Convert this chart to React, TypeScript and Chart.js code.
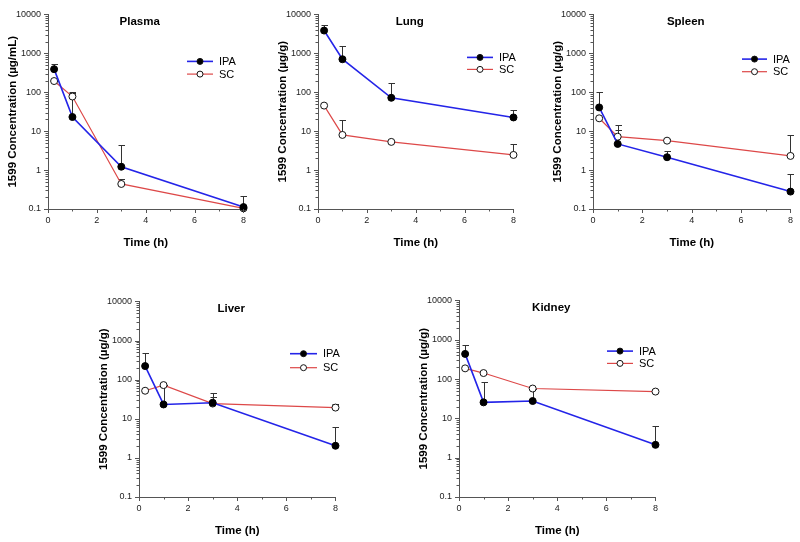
import React, { useEffect, useRef } from "react";
import { Chart, registerables } from "chart.js";

Chart.register(...registerables);

// ---------- data ----------
const TIMES = [0.25, 1, 3, 8];
const X_TICKS = [0, 2, 4, 6, 8];
const Y_TICKS = [0.1, 1, 10, 100, 1000, 10000];
const SERIES_NAMES = ["IPA", "SC"];

const PLASMA_IPA = [392, 23.1, 1.22, 0.112];
const PLASMA_IPA_ERR = [535, 98, 4.5, 0.214];
const PLASMA_SC = [194, 77.6, 0.44, 0.104];
const PLASMA_SC_ERR = [null, 100, 0.6, null];

const LUNG_IPA = [3850, 705, 72, 22.5];
const LUNG_IPA_ERR = [5460, 1540, 174, 34.6];
const LUNG_SC = [45.4, 8.0, 5.3, 2.45];
const LUNG_SC_ERR = [null, 19.6, null, 4.57];

const SPLEEN_IPA = [40.7, 4.7, 2.14, 0.28];
const SPLEEN_IPA_ERR = [102, 10.6, 3.16, 0.78];
const SPLEEN_SC = [21.4, 7.2, 5.7, 2.31];
const SPLEEN_SC_ERR = [null, 14.5, 6.3, 7.9];

const LIVER_IPA = [222, 23.2, 25.7, 2.04];
const LIVER_IPA_ERR = [471, 72, 44.7, 6.2];
const LIVER_SC = [52, 72.6, 24.5, 19.3];
const LIVER_SC_ERR = [null, null, 35, 24.3];

const KIDNEY_IPA = [436, 25.5, 27.6, 2.12];
const KIDNEY_IPA_ERR = [749, 84.5, 55, 6.25];
const KIDNEY_SC = [187, 142, 57.4, 48];
const KIDNEY_SC_ERR = [null, null, null, null];

// ---------- layout / style ----------
const FONT = "'Liberation Sans', Arial, Helvetica, sans-serif";
const IPA_COLOR = "#2424e8";
const SC_COLOR = "#dd4848";
const AXIS_COLOR = "#555555";
const Y_BOX = 50;
const X_BOX = 45;
const PAD_TOP = 10;
const PAD_RIGHT = 6;

type Panel = {
  title: string;
  yTitle: string;
  ipa: number[];
  ipaErr: (number | null)[];
  sc: number[];
  scErr: (number | null)[];
  box: { L: number; R: number; T: number; B: number };
  legend: { x0: number; x1: number; y0: number; y1: number };
};

const PANELS: Panel[] = [
  {
    title: "Plasma",
    yTitle: "1599 Concentration (µg/mL)",
    ipa: PLASMA_IPA, ipaErr: PLASMA_IPA_ERR, sc: PLASMA_SC, scErr: PLASMA_SC_ERR,
    box: { L: 48, R: 246, T: 12, B: 209 },
    legend: { x0: 139, x1: 165, y0: 47, y1: 59.7 },
  },
  {
    title: "Lung",
    yTitle: "1599 Concentration (µg/g)",
    ipa: LUNG_IPA, ipaErr: LUNG_IPA_ERR, sc: LUNG_SC, scErr: LUNG_SC_ERR,
    box: { L: 318, R: 516, T: 12, B: 209 },
    legend: { x0: 149, x1: 175, y0: 43, y1: 55 },
  },
  {
    title: "Spleen",
    yTitle: "1599 Concentration (µg/g)",
    ipa: SPLEEN_IPA, ipaErr: SPLEEN_IPA_ERR, sc: SPLEEN_SC, scErr: SPLEEN_SC_ERR,
    box: { L: 593, R: 793, T: 12, B: 209 },
    legend: { x0: 149, x1: 174, y0: 44.7, y1: 57.3 },
  },
  {
    title: "Liver",
    yTitle: "1599 Concentration (µg/g)",
    ipa: LIVER_IPA, ipaErr: LIVER_IPA_ERR, sc: LIVER_SC, scErr: LIVER_SC_ERR,
    box: { L: 139, R: 338, T: 299, B: 497 },
    legend: { x0: 151, x1: 178, y0: 52.3, y1: 66.3 },
  },
  {
    title: "Kidney",
    yTitle: "1599 Concentration (µg/g)",
    ipa: KIDNEY_IPA, ipaErr: KIDNEY_IPA_ERR, sc: KIDNEY_SC, scErr: KIDNEY_SC_ERR,
    box: { L: 459, R: 658, T: 298, B: 497 },
    legend: { x0: 148, x1: 174, y0: 50.7, y1: 63 },
  },
];

function decorPlugin(p: Panel) {
  return {
    id: "decor",
    beforeDatasetsDraw(chart: any) {
      const ctx = chart.ctx;
      const xs = chart.scales.x;
      const ys = chart.scales.y;
      const groups = [
        { vals: p.ipa, errs: p.ipaErr },
        { vals: p.sc, errs: p.scErr },
      ];
      ctx.save();
      ctx.strokeStyle = "#333333";
      ctx.lineWidth = 1;
      for (const g of groups) {
        g.errs.forEach((e, i) => {
          if (e == null) return;
          const x = Math.round(xs.getPixelForValue(TIMES[i])) + 0.5;
          const y0 = ys.getPixelForValue(g.vals[i]);
          const y1 = Math.round(ys.getPixelForValue(e)) + 0.5;
          ctx.beginPath();
          ctx.moveTo(x, y0);
          ctx.lineTo(x, y1);
          ctx.moveTo(x - 3, y1);
          ctx.lineTo(x + 3.5, y1);
          ctx.stroke();
        });
      }
      ctx.restore();
    },
    afterDraw(chart: any) {
      const ctx = chart.ctx;
      const xs = chart.scales.x;
      const ys = chart.scales.y;
      const area = chart.chartArea;
      ctx.save();
      // tick marks
      ctx.strokeStyle = AXIS_COLOR;
      ctx.lineWidth = 1;
      ctx.beginPath();
      for (let d = 0.1; d <= 10000 * 1.0001; d *= 10) {
        for (let m = 1; m <= 9; m++) {
          const v = d * m;
          if (v > 10000 * 1.0001) break;
          const y = Math.round(ys.getPixelForValue(v)) + 0.5;
          const len = m === 1 ? 4 : 2.5;
          ctx.moveTo(area.left - len, y);
          ctx.lineTo(area.left, y);
        }
      }
      for (let t = 0; t <= 8; t++) {
        const x = Math.round(xs.getPixelForValue(t)) + 0.5;
        const len = t % 2 === 0 ? 4 : 2.5;
        ctx.moveTo(x, area.bottom);
        ctx.lineTo(x, area.bottom + len);
      }
      ctx.stroke();

      // panel title
      ctx.fillStyle = "#000";
      ctx.font = `bold 11.5px ${FONT}`;
      ctx.textAlign = "center";
      ctx.textBaseline = "middle";
      ctx.fillText(p.title, (area.left + area.right) / 2 - 6, area.top + 7);

      // legend
      const lg = p.legend;
      const items = [
        { name: SERIES_NAMES[0], color: IPA_COLOR, width: 1.6, fill: "#000", y: lg.y0 },
        { name: SERIES_NAMES[1], color: SC_COLOR, width: 1.2, fill: "#fff", y: lg.y1 },
      ];
      for (const it of items) {
        const y = area.top + it.y;
        const x0 = area.left + lg.x0;
        const x1 = area.left + lg.x1;
        ctx.strokeStyle = it.color;
        ctx.lineWidth = it.width;
        ctx.beginPath();
        ctx.moveTo(x0, y);
        ctx.lineTo(x1, y);
        ctx.stroke();
        ctx.beginPath();
        ctx.arc((x0 + x1) / 2, y, 3, 0, Math.PI * 2);
        ctx.fillStyle = it.fill;
        ctx.fill();
        ctx.strokeStyle = "#111";
        ctx.lineWidth = 1;
        ctx.stroke();
        ctx.fillStyle = "#000";
        ctx.font = `11px ${FONT}`;
        ctx.textAlign = "left";
        ctx.textBaseline = "middle";
        ctx.fillText(it.name, x1 + 6, y + 0.5);
      }
      ctx.restore();
    },
  };
}

function PanelChart({ p }: { p: Panel }) {
  const ref = useRef<HTMLCanvasElement | null>(null);
  const left = p.box.L - Y_BOX;
  const top = p.box.T - PAD_TOP;
  const width = p.box.R - p.box.L + Y_BOX + PAD_RIGHT;
  const height = p.box.B - p.box.T + PAD_TOP + X_BOX;

  useEffect(() => {
    if (!ref.current) return;
    const chart = new Chart(ref.current, {
      type: "line",
      data: {
        datasets: [
          {
            label: SERIES_NAMES[0],
            data: TIMES.map((t, i) => ({ x: t, y: p.ipa[i] })),
            borderColor: IPA_COLOR,
            borderWidth: 1.6,
            pointRadius: 3.5,
            pointBackgroundColor: "#000",
            pointBorderColor: "#000",
            pointBorderWidth: 1,
            tension: 0,
            clip: false,
          } as any,
          {
            label: SERIES_NAMES[1],
            data: TIMES.map((t, i) => ({ x: t, y: p.sc[i] })),
            borderColor: SC_COLOR,
            borderWidth: 1.2,
            pointRadius: 3.5,
            pointBackgroundColor: "#fff",
            pointBorderColor: "#111",
            pointBorderWidth: 1,
            tension: 0,
            clip: false,
          } as any,
        ],
      },
      options: {
        responsive: false,
        maintainAspectRatio: false,
        animation: false,
        events: [],
        layout: { padding: { left: 0, top: PAD_TOP, right: PAD_RIGHT, bottom: 0 } },
        plugins: {
          legend: { display: false },
          title: { display: false },
          tooltip: { enabled: false },
        },
        scales: {
          x: {
            type: "linear",
            min: 0,
            max: 8,
            afterBuildTicks: (s: any) => {
              s.ticks = X_TICKS.map((v) => ({ value: v }));
            },
            afterFit: (s: any) => {
              s.height = X_BOX;
            },
            grid: { display: false, drawTicks: false },
            border: { display: true, color: AXIS_COLOR, width: 1 },
            ticks: {
              padding: 6,
              color: "#222",
              font: { family: FONT, size: 9 },
              maxRotation: 0,
              autoSkip: false,
              callback: (v: any) => String(v),
            },
            title: {
              display: true,
              text: "Time (h)",
              color: "#000",
              font: { family: FONT, size: 11.5, weight: "bold" },
              padding: { top: 0, bottom: 4 },
            },
          },
          y: {
            type: "logarithmic",
            min: 0.1,
            max: 10000,
            afterBuildTicks: (s: any) => {
              s.ticks = Y_TICKS.map((v) => ({ value: v }));
            },
            afterFit: (s: any) => {
              s.width = Y_BOX;
            },
            grid: { display: false, drawTicks: false },
            border: { display: true, color: AXIS_COLOR, width: 1 },
            ticks: {
              padding: 7,
              color: "#222",
              font: { family: FONT, size: 9 },
              autoSkip: false,
              callback: (v: any) => String(v),
            },
            title: {
              display: true,
              text: p.yTitle,
              color: "#000",
              font: { family: FONT, size: 11.5, weight: "bold" },
              padding: { top: 7.6, bottom: 0 },
            },
          },
        },
      } as any,
      plugins: [decorPlugin(p)],
    });
    return () => chart.destroy();
  }, [p]);

  return (
    <canvas
      ref={ref}
      width={width}
      height={height}
      style={{ position: "absolute", left, top, width, height, display: "block" }}
    />
  );
}

export default function App() {
  return (
    <div
      style={{
        position: "fixed",
        left: 0,
        top: 0,
        width: 800,
        height: 542,
        background: "#fff",
        overflow: "hidden",
      }}
    >
      {PANELS.map((p) => (
        <PanelChart key={p.title} p={p} />
      ))}
    </div>
  );
}
